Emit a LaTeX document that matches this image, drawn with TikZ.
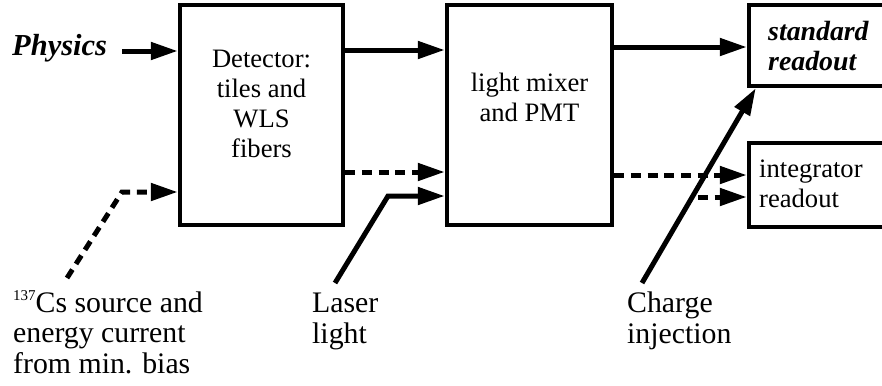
\documentclass[tikz,border=0pt]{standalone}
\usepackage{fontspec}
\setmainfont{Liberation Serif}
\usetikzlibrary{arrows.meta}
\newcommand{\isotope}[1]{\raisebox{12bp}{\fontsize{15bp}{15bp}\selectfont #1}}
\begin{document}
\begin{tikzpicture}[x=1bp,y=-1bp,
  box/.style={draw,line width=4.5bp,inner sep=0pt},
  arr/.style={line width=5bp,-{Triangle[length=27bp,width=17bp]}},
  dsh/.style={arr,dash pattern=on 10bp off 6.7bp},
  intxt/.style={inner sep=0pt,font=\fontsize{26.6bp}{30bp}\selectfont},
  bitxt/.style={inner sep=0pt,font=\fontsize{27.8bp}{30bp}\selectfont\bfseries\itshape},
  bottxt/.style={inner sep=0pt,align=left,anchor=base west,font=\fontsize{29.8bp}{30.5bp}\selectfont}]
\useasboundingbox (0,0) rectangle (882,385);
\clip (0,0) rectangle (882,385);
% boxes
\node[box,minimum width=163bp,minimum height=220bp] (det) at (261.5,115) {};
\node[intxt,align=center,anchor=base] (dett) at (261.5,157)
  {Detector:\\tiles and\\WLS\\fibers};
\node[box,minimum width=165bp,minimum height=220bp] (pmt) at (529.5,115) {};
\node[intxt,align=center,anchor=base] (pmtt) at (529.5,121) {light mixer\\and PMT};
\node[box,minimum width=251bp,minimum height=81bp] (std) at (874.5,45.5) {};
\node[bitxt,align=left,anchor=base west] (stdt) at (768,70) {standard\\readout};
\node[box,minimum width=251bp,minimum height=84bp] (int) at (874.5,185) {};
\node[intxt,align=left,anchor=base west] (intt) at (759,207) {integrator\\readout};
% labels
\node[bitxt,anchor=base west,font=\fontsize{30.5bp}{31bp}\selectfont\bfseries\itshape] (phys) at (12,55) {Physics};
\node[bottxt] (cs) at (13,373) {\isotope{137}Cs source and\\energy current\\from min. bias};
\node[bottxt] (laser) at (312,343) {Laser\\light};
\node[bottxt] (charge) at (627,343) {Charge\\injection};
% row coordinates
\coordinate (yA) at (0,50);
\coordinate (yB) at (0,47);
\coordinate (yC) at (0,172);
\coordinate (yF) at (0,175);
\coordinate (physE) at (122,51);
\coordinate (csS) at (67,278);
\coordinate (csK) at (122,192);
\coordinate (lzS) at (335,283);
\coordinate (lzK) at (388,196);
\coordinate (chS) at (642,283);
\coordinate (igS) at (698,197);
% connectors
\draw[arr] (physE) -- (physE -| det.west);
\draw[arr] (det.east |- yA) -- (pmt.west |- yA);
\draw[dsh] (det.east |- yC) -- (pmt.west |- yC);
\draw[dsh] (csS) -- (csK) -- (csK -| det.west);
\draw[arr] (lzS) -- (lzK) -- (lzK -| pmt.west);
\draw[arr] (pmt.east |- yB) -- (std.west |- yB);
\draw[dsh] (pmt.east |- yF) -- (int.west |- yF);
\draw[dsh] (igS) -- (igS -| int.west);
\draw[arr] (chS) -- ([xshift=9bp]std.south west);
\end{tikzpicture}
\end{document}
